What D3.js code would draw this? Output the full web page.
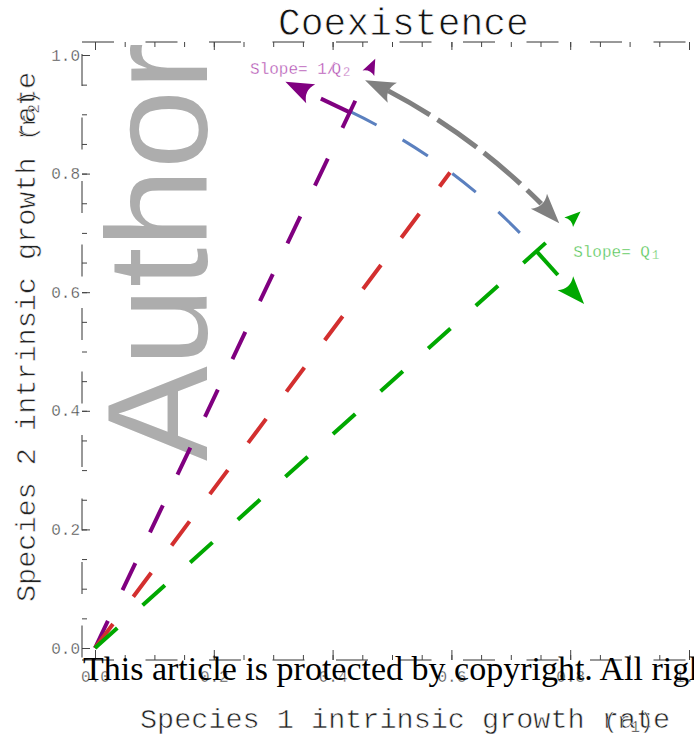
<!DOCTYPE html>
<html>
<head>
<meta charset="utf-8">
<script src="https://cdn.jsdelivr.net/npm/d3@7"></script>
<style>
  body { margin: 0; background: #fff; }
</style>
</head>
<body>
<div id="chart"></div>
<script>
// values
var rayNames   = ["purple", "red", "green"];
var rayAngles  = [64.6, 53.3, 42.0];   // degrees from the r1 axis
var rayLengths = [1.1, 1.0, 1.1];
var rayArrows  = [true, false, true];
var rayColors  = ["#800080", "#d32f2f", "#00a800"];

var circleRadius = 1.0;            // blue dashed arc
var grayRadius   = 1.06;           // grey double arrow
var grayAngles   = [64.6, 42.5];
var tangentLength = 0.12;          // the two "slope" arrows

var majorTicks = [0, 0.2, 0.4, 0.6, 0.8, 1.0];
var minorTicks = [0, 0.05, 0.1, 0.15, 0.2, 0.25, 0.3, 0.35, 0.4, 0.45, 0.5,
                  0.55, 0.6, 0.65, 0.7, 0.75, 0.8, 0.85, 0.9, 0.95, 1.0];

var mono = "'Liberation Mono', 'Courier New', monospace";

var width = 694, height = 736;

var svg = d3.select("#chart")
  .append("svg")
    .attr("width", width)
    .attr("height", height);

var x = d3.scaleLinear().domain([0, 1]).range([95, 689]);
var y = d3.scaleLinear().domain([0, 1]).range([648, 55]);

// polar -> data coords
function pt(r, deg) {
  var a = deg * Math.PI / 180;
  return [r * Math.cos(a), r * Math.sin(a)];
}
function px(p) { return [x(p[0]), y(p[1])]; }

// mathematica-like arrow head, tip at (tx,ty), pointing along (dx,dy)
function arrowHead(g, tip, dir, len, wid, color) {
  var ang = Math.atan2(dir[1], dir[0]) * 180 / Math.PI;
  g.append("path")
    .attr("d", "M0,0 L" + (-len) + "," + (-wid / 2) +
               " Q" + (-0.72 * len) + ",0 " + (-len) + "," + (wid / 2) + "Z")
    .attr("transform", "translate(" + tip[0] + "," + tip[1] + ") rotate(" + ang + ")")
    .attr("fill", color);
}
function unit(a, b) {
  var dx = b[0] - a[0], dy = b[1] - a[1], l = Math.sqrt(dx * dx + dy * dy);
  return [dx / l, dy / l];
}
// the original uses a thin courier; erode the heavier mono glyphs a little
function thin(sel, w) {
  sel.attr("stroke", "#fff").attr("stroke-width", w);
}

// watermark
svg.append("text")
  .attr("transform", "translate(207,461) rotate(-90)")
  .attr("font-family", "'Liberation Sans', Arial, sans-serif")
  .attr("font-size", 142)
  .attr("fill", "#adadad")
  .text("Author");

// dashed frame
var frame = svg.append("g")
  .attr("fill", "none")
  .attr("stroke", "#333")
  .attr("stroke-width", 1)
  .attr("stroke-dasharray", "32,31.5");
frame.append("path").attr("d", "M82,42H694");
frame.append("path").attr("d", "M82,54V660");
frame.append("path").attr("d", "M82,660H694");

function styleAxis(g) {
  g.select(".domain").remove();
  g.attr("font-family", mono).attr("font-size", 16).attr("color", "#444");
  g.selectAll("text").call(thin, 0.35);
}

// top ticks
svg.append("g").attr("transform", "translate(0,42)")
  .call(d3.axisTop(x).tickValues(minorTicks).tickSize(-5).tickFormat(""))
  .call(styleAxis);
svg.append("g").attr("transform", "translate(0,42)")
  .call(d3.axisTop(x).tickValues(majorTicks).tickSize(-8).tickFormat(""))
  .call(styleAxis);

// left axis
svg.append("g").attr("transform", "translate(82,0)")
  .call(d3.axisLeft(y).tickValues(minorTicks).tickSize(-5).tickFormat(""))
  .call(styleAxis);
svg.append("g").attr("transform", "translate(82,0)")
  .call(d3.axisLeft(y).tickValues(majorTicks).tickSize(-8).tickPadding(2)
          .tickFormat(d3.format(".1f")))
  .call(styleAxis);

// bottom axis
svg.append("g").attr("transform", "translate(0,660)")
  .call(d3.axisBottom(x).tickValues(minorTicks).tickSize(-5).tickFormat(""))
  .call(styleAxis);
svg.append("g").attr("transform", "translate(0,660)")
  .call(d3.axisBottom(x).tickValues(majorTicks).tickSize(-10).tickPadding(11)
          .tickFormat(d3.format(".1f")))
  .call(styleAxis);

var plot = svg.append("g");
var origin = px([0, 0]);
var R = x(circleRadius) - x(0);

// blue arc on the unit circle
var arcPath = d3.path();
arcPath.arc(origin[0], origin[1], R,
  -rayAngles[0] * Math.PI / 180, -rayAngles[2] * Math.PI / 180, false);
plot.append("path")
  .attr("d", arcPath.toString())
  .attr("fill", "none")
  .attr("stroke", "#5b80bf")
  .attr("stroke-width", 3)
  .attr("stroke-dasharray", "30,30");

// rays from the origin
rayNames.forEach(function(name, i) {
  var tip = px(pt(rayLengths[i], rayAngles[i]));
  var dir = unit(origin, tip);
  var end = tip;
  if (rayArrows[i]) {
    end = [tip[0] - 14 * dir[0], tip[1] - 14 * dir[1]];
    arrowHead(plot, tip, dir, 16, 13, rayColors[i]);
  }
  plot.append("path")
    .attr("d", d3.line()([origin, end]))
    .attr("fill", "none")
    .attr("stroke", rayColors[i])
    .attr("stroke-width", 4)
    .attr("stroke-dasharray", "30,34");
});

// tangent ("slope") arrows at the purple and green points
[[0, 1], [2, -1]].forEach(function(t) {
  var i = t[0], s = t[1];
  var a = rayAngles[i] * Math.PI / 180;
  var p = pt(circleRadius, rayAngles[i]);
  var q = [p[0] - s * tangentLength * Math.sin(a), p[1] + s * tangentLength * Math.cos(a)];
  var P = px(p), Q = px(q);
  var dir = unit(P, Q);
  var base = [Q[0] - 25 * dir[0], Q[1] - 25 * dir[1]];
  plot.append("path")
    .attr("d", d3.line()([P, base]))
    .attr("fill", "none")
    .attr("stroke", rayColors[i])
    .attr("stroke-width", 4)
    .attr("stroke-dasharray", "32,40");
  arrowHead(plot, Q, dir, 28, 21, rayColors[i]);
});

// grey double arrow
var RG = x(grayRadius) - x(0);
var dA = 26 / RG;
var g0 = grayAngles[0] * Math.PI / 180, g1 = grayAngles[1] * Math.PI / 180;
var grayPath = d3.path();
grayPath.arc(origin[0], origin[1], RG, -g0 + dA, -g1 - dA, false);
plot.append("path")
  .attr("d", grayPath.toString())
  .attr("fill", "none")
  .attr("stroke", "#808080")
  .attr("stroke-width", 5)
  .attr("stroke-dasharray", "48,9");
var gTip0 = px(pt(grayRadius, grayAngles[0]));
var gTip1 = px(pt(grayRadius, grayAngles[1]));
var gB0 = [origin[0] + RG * Math.cos(-g0 + dA), origin[1] + RG * Math.sin(-g0 + dA)];
var gB1 = [origin[0] + RG * Math.cos(-g1 - dA), origin[1] + RG * Math.sin(-g1 - dA)];
arrowHead(plot, gTip0, unit(gB0, gTip0), 30, 22, "#808080");
arrowHead(plot, gTip1, unit(gB1, gTip1), 30, 22, "#808080");

// slope labels
var lab1 = svg.append("text")
  .attr("x", x(0.261)).attr("y", y(0.968))
  .attr("font-family", mono).attr("font-size", 16)
  .attr("fill", "#b04ab0");
lab1.append("tspan").text("Slope= 1/");
lab1.append("tspan").attr("dx", -5).text("Q");
lab1.append("tspan").attr("dx", 2).attr("dy", 2).attr("font-size", 12).text("2");
lab1.call(thin, 0.35);

var lab2 = svg.append("text")
  .attr("x", x(0.805)).attr("y", y(0.659))
  .attr("font-family", mono).attr("font-size", 16)
  .attr("fill", "#4cc24c");
lab2.append("tspan").text("Slope= Q");
lab2.append("tspan").attr("dx", 2).attr("dy", 2).attr("font-size", 12).text("1");
lab2.call(thin, 0.35);

// title
svg.append("text")
  .attr("x", 278).attr("y", 35)
  .attr("font-family", mono).attr("font-size", 38)
  .attr("fill", "#111")
  .text("Coexistence")
  .call(thin, 0.8);

// axis titles (subscripted part lands on top of "rate" as in the original)
svg.append("text")
  .attr("x", 140).attr("y", 728)
  .attr("font-family", mono).attr("font-size", 28.5)
  .attr("fill", "#222")
  .text("Species 1 intrinsic growth rate")
  .call(thin, 0.6);
var xs = svg.append("text")
  .attr("x", 604).attr("y", 728)
  .attr("font-family", mono).attr("font-size", 22)
  .attr("fill", "#222");
xs.append("tspan").text("(r");
xs.append("tspan").attr("dy", 4).attr("font-size", 16).text("1");
xs.append("tspan").attr("dy", -4).text(")");
xs.call(thin, 0.5);

svg.append("text")
  .attr("transform", "translate(35,602) rotate(-90)")
  .attr("font-family", mono).attr("font-size", 28.5)
  .attr("fill", "#222")
  .text("Species 2 intrinsic growth rate")
  .call(thin, 0.6);
var ys = svg.append("text")
  .attr("transform", "translate(35,140) rotate(-90)")
  .attr("font-family", mono).attr("font-size", 22)
  .attr("fill", "#222");
ys.append("tspan").text("(r");
ys.append("tspan").attr("dy", 4).attr("font-size", 16).text("2");
ys.append("tspan").attr("dy", -4).text(")");
ys.call(thin, 0.5);

// copyright line over the tick labels
svg.append("text")
  .attr("x", 83).attr("y", 680)
  .attr("font-family", "'Liberation Serif', 'Times New Roman', serif")
  .attr("font-size", 34)
  .attr("fill", "#000")
  .text("This article is protected by copyright. All rights reserved");
</script>
</body>
</html>
